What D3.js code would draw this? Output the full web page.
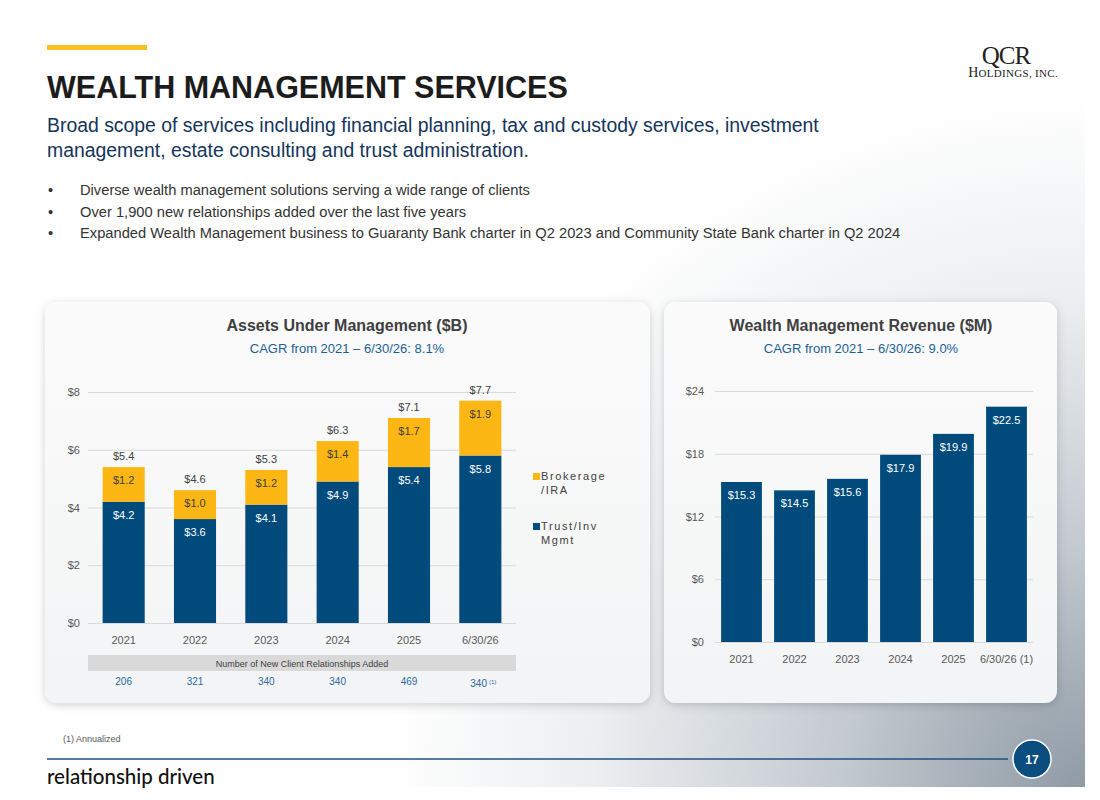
<!DOCTYPE html>
<html>
<head lang="en">
    <meta charset="UTF-8">
    <title>Wealth Management Services</title>
    <style>
        body { margin: 0; background: #fff; }
        svg { display: block; font-family: "Liberation Sans", Arial, sans-serif; }
        .grid line { stroke: #d9d9d9; }
        .tick text { fill: #595959; font-size: 11px; }
    </style>
</head>
<body>
<svg width="1100" height="800"></svg>

<script src="https://cdn.jsdelivr.net/npm/d3@7"></script>
<script>
    // ---- data ----
    var aumYears = ["2021", "2022", "2023", "2024", "2025", "6/30/26"];
    var trustInv = [4.2, 3.6, 4.1, 4.9, 5.4, 5.8];
    var brokerage = [1.2, 1.0, 1.2, 1.4, 1.7, 1.9];
    var aumTotals = [5.4, 4.6, 5.3, 6.3, 7.1, 7.7];
    var aumTicks = [0, 2, 4, 6, 8];
    var newClients = ["206", "321", "340", "340", "469", "340"];

    var revYears = ["2021", "2022", "2023", "2024", "2025", "6/30/26 (1)"];
    var revenue = [15.3, 14.5, 15.6, 17.9, 19.9, 22.5];
    var revTicks = [0, 6, 12, 18, 24];

    var bullets = [
        "Diverse wealth management solutions serving a wide range of clients",
        "Over 1,900 new relationships added over the last five years",
        "Expanded Wealth Management business to Guaranty Bank charter in Q2 2023 and Community State Bank charter in Q2 2024"
    ];

    var navy = "#004b7c", gold = "#fdb714";

    var svg = d3.select("svg");
    var defs = svg.append("defs");

    // slide background
    var rg = defs.append("radialGradient").attr("id", "bg")
            .attr("gradientUnits", "userSpaceOnUse")
            .attr("cx", 1085).attr("cy", 790).attr("r", 820);
    rg.append("stop").attr("offset", 0).attr("stop-color", "#8e9aa5");
    rg.append("stop").attr("offset", 0.3).attr("stop-color", "#c3cad0");
    rg.append("stop").attr("offset", 0.6).attr("stop-color", "#eceef0");
    rg.append("stop").attr("offset", 0.85).attr("stop-color", "#ffffff");
    svg.append("rect").attr("width", 1085).attr("height", 787).attr("fill", "url(#bg)");

    var sh = defs.append("filter").attr("id", "shadow")
            .attr("x", "-10%").attr("y", "-10%").attr("width", "120%").attr("height", "120%");
    sh.append("feDropShadow").attr("dx", 0).attr("dy", 2).attr("stdDeviation", 4)
            .attr("flood-color", "#000").attr("flood-opacity", 0.18);

    var pg = defs.append("linearGradient").attr("id", "panel").attr("x1", 0).attr("y1", 0).attr("x2", 0).attr("y2", 1);
    pg.append("stop").attr("offset", 0).attr("stop-color", "#fbfbfb");
    pg.append("stop").attr("offset", 1).attr("stop-color", "#f3f4f5");

    // ---- header ----
    svg.append("rect").attr("x", 47).attr("y", 45).attr("width", 100).attr("height", 5).attr("fill", "#fbbf24");
    svg.append("text").attr("x", 47).attr("y", 98)
            .attr("font-size", 30.5).attr("font-weight", "bold").attr("fill", "#1c1c1c")
            .text("WEALTH MANAGEMENT SERVICES");
    var sub = svg.append("text").attr("font-size", 19.4).attr("fill", "#14345a");
    sub.append("tspan").attr("x", 47).attr("y", 132)
            .text("Broad scope of services including financial planning, tax and custody services, investment");
    sub.append("tspan").attr("x", 47).attr("y", 157)
            .text("management, estate consulting and trust administration.");

    svg.selectAll(".bullet").data(bullets).enter().append("g").attr("class", "bullet")
            .each(function (d, i) {
                var g = d3.select(this);
                var y = 195 + i * 21.5;
                g.append("text").attr("x", 48).attr("y", y).attr("font-size", 14.7).attr("fill", "#333").text("\u2022");
                g.append("text").attr("x", 80).attr("y", y).attr("font-size", 14.7).attr("fill", "#333").text(d);
            });

    // logo
    svg.append("text").attr("x", 1006).attr("y", 64).attr("text-anchor", "middle")
            .attr("font-family", "Liberation Serif, serif").attr("font-size", 25).attr("fill", "#222")
            .attr("letter-spacing", -1).text("QCR");
    var hold = svg.append("text").attr("x", 1058).attr("y", 77).attr("text-anchor", "end")
            .attr("font-family", "Liberation Serif, serif").attr("fill", "#222").attr("letter-spacing", 0.3);
    hold.append("tspan").attr("font-size", 14).text("H");
    hold.append("tspan").attr("font-size", 11).text("OLDINGS, ");
    hold.append("tspan").attr("font-size", 11).text("INC.");

    // ---- panels ----
    svg.append("rect").attr("x", 45).attr("y", 302).attr("width", 605).attr("height", 401)
            .attr("rx", 12).attr("fill", "url(#panel)").attr("filter", "url(#shadow)");
    svg.append("rect").attr("x", 664).attr("y", 302).attr("width", 393).attr("height", 401)
            .attr("rx", 12).attr("fill", "url(#panel)").attr("filter", "url(#shadow)");

    function titles(cx, title, cagr) {
        svg.append("text").attr("x", cx).attr("y", 331).attr("text-anchor", "middle")
                .attr("font-size", 16).attr("font-weight", "bold").attr("fill", "#404040").text(title);
        svg.append("text").attr("x", cx).attr("y", 353).attr("text-anchor", "middle")
                .attr("font-size", 13).attr("fill", "#1d5f93").text(cagr);
    }

    // ---- left chart: AUM stacked bars ----
    titles(347, "Assets Under Management ($B)", "CAGR from 2021 \u2013 6/30/26: 8.1%");

    var x1 = d3.scaleBand().domain(aumYears).range([88, 516]).paddingInner(0.41).paddingOuter(0.205);
    var y1 = d3.scaleLinear().domain([0, 8]).range([623, 392]);

    svg.append("g").attr("class", "grid")
            .attr("transform", "translate(88,0)")
            .call(d3.axisLeft(y1).tickValues(aumTicks).tickSize(-428).tickFormat(function (d) { return "$" + d; }))
            .call(function (g) {
                g.select(".domain").remove();
                g.selectAll(".tick text").attr("x", -8);
            });

    var la = svg.append("g").selectAll("g").data(aumYears).enter().append("g");
    la.append("rect").attr("x", function (d) { return x1(d); })
            .attr("y", function (d, i) { return y1(trustInv[i]); })
            .attr("width", x1.bandwidth())
            .attr("height", function (d, i) { return y1(0) - y1(trustInv[i]); })
            .attr("fill", navy);
    la.append("rect").attr("x", function (d) { return x1(d); })
            .attr("y", function (d, i) { return y1(trustInv[i] + brokerage[i]); })
            .attr("width", x1.bandwidth())
            .attr("height", function (d, i) { return y1(trustInv[i]) - y1(trustInv[i] + brokerage[i]); })
            .attr("fill", gold);
    la.append("text").attr("text-anchor", "middle").attr("font-size", 11).attr("fill", "#fff")
            .attr("x", function (d) { return x1(d) + x1.bandwidth() / 2; })
            .attr("y", function (d, i) { return y1(trustInv[i]) + 17; })
            .text(function (d, i) { return "$" + trustInv[i].toFixed(1); });
    la.append("text").attr("text-anchor", "middle").attr("font-size", 11).attr("fill", "#404040")
            .attr("x", function (d) { return x1(d) + x1.bandwidth() / 2; })
            .attr("y", function (d, i) { return y1(trustInv[i] + brokerage[i]) + 17; })
            .text(function (d, i) { return "$" + brokerage[i].toFixed(1); });
    la.append("text").attr("text-anchor", "middle").attr("font-size", 11).attr("fill", "#404040")
            .attr("x", function (d) { return x1(d) + x1.bandwidth() / 2; })
            .attr("y", function (d, i) { return y1(aumTotals[i]) - 7; })
            .text(function (d, i) { return "$" + aumTotals[i].toFixed(1); });

    svg.append("g").attr("transform", "translate(0,623)")
            .call(d3.axisBottom(x1).tickSize(0).tickPadding(13))
            .call(function (g) {
                g.select(".domain").remove();
                g.selectAll(".tick text").attr("fill", "#404040");
            });

    // new client relationships strip
    svg.append("rect").attr("x", 88).attr("y", 655).attr("width", 428).attr("height", 16).attr("fill", "#d9d9d9");
    svg.append("text").attr("x", 302).attr("y", 667).attr("text-anchor", "middle")
            .attr("font-size", 9).attr("fill", "#404040").text("Number of New Client Relationships Added");
    var nc = svg.append("g").selectAll("text").data(aumYears).enter().append("text")
            .attr("text-anchor", "middle").attr("font-size", 10).attr("fill", "#2a6aa0")
            .attr("x", function (d, i) { return x1(d) + x1.bandwidth() / 2 + (i === 5 ? 3 : 0); })
            .attr("y", function (d, i) { return i === 5 ? 687 : 685; })
            .text(function (d, i) { return newClients[i]; });
    nc.filter(function (d, i) { return i === 5; }).append("tspan")
            .attr("font-size", 6).attr("dy", -3).attr("dx", 2).text("(1)");

    // legend
    var legend = [
        {label: ["Brokerage", "/IRA"], color: gold, y: 480},
        {label: ["Trust/Inv", "Mgmt"], color: navy, y: 530}
    ];
    var lg = svg.append("g").selectAll("g").data(legend).enter().append("g");
    lg.append("rect").attr("x", 533).attr("y", function (d) { return d.y - 7; })
            .attr("width", 7).attr("height", 7).attr("fill", function (d) { return d.color; });
    lg.append("text").attr("font-size", 11).attr("fill", "#404040").attr("letter-spacing", 1.6)
            .each(function (d) {
                var t = d3.select(this);
                d.label.forEach(function (s, j) {
                    t.append("tspan").attr("x", 541).attr("y", d.y + j * 14).text(s);
                });
            });

    // ---- right chart: revenue ----
    titles(861, "Wealth Management Revenue ($M)", "CAGR from 2021 \u2013 6/30/26: 9.0%");

    var x2 = d3.scaleBand().domain(revYears).range([715, 1033]).paddingInner(0.23).paddingOuter(0.115);
    var y2 = d3.scaleLinear().domain([0, 24]).range([642, 391]);

    svg.append("g").attr("class", "grid")
            .attr("transform", "translate(715,0)")
            .call(d3.axisLeft(y2).tickValues(revTicks).tickSize(-318).tickFormat(function (d) { return "$" + d; }))
            .call(function (g) {
                g.select(".domain").remove();
                g.selectAll(".tick text").attr("x", -11);
            });

    var rb = svg.append("g").selectAll("g").data(revYears).enter().append("g");
    rb.append("rect").attr("x", function (d) { return x2(d); })
            .attr("y", function (d, i) { return y2(revenue[i]); })
            .attr("width", x2.bandwidth())
            .attr("height", function (d, i) { return y2(0) - y2(revenue[i]); })
            .attr("fill", navy);
    rb.append("text").attr("text-anchor", "middle").attr("font-size", 11).attr("fill", "#fff")
            .attr("x", function (d) { return x2(d) + x2.bandwidth() / 2; })
            .attr("y", function (d, i) { return y2(revenue[i]) + 17; })
            .text(function (d, i) { return "$" + revenue[i].toFixed(1); });

    svg.append("g").attr("transform", "translate(0,642)")
            .call(d3.axisBottom(x2).tickSize(0).tickPadding(13))
            .call(function (g) {
                g.select(".domain").remove();
                g.selectAll(".tick text").attr("fill", "#404040").attr("font-size", 10.5);
            });

    // ---- footer ----
    svg.append("text").attr("x", 63).attr("y", 742).attr("font-size", 9).attr("fill", "#595959").text("(1) Annualized");
    svg.append("line").attr("x1", 47).attr("x2", 1008).attr("y1", 759).attr("y2", 759)
            .attr("stroke", "#1f5180").attr("stroke-width", 1.5);
    svg.append("circle").attr("cx", 1032).attr("cy", 759).attr("r", 19)
            .attr("fill", "#0b4d7f").attr("stroke", "#fff").attr("stroke-width", 1.5);
    svg.append("text").attr("x", 1032).attr("y", 764).attr("text-anchor", "middle")
            .attr("font-size", 12).attr("font-weight", "bold").attr("fill", "#fff").text("17");
    svg.append("text").attr("x", 47).attr("y", 784).attr("font-family", "Lato, sans-serif")
            .attr("font-size", 20.5).attr("font-weight", 500).attr("fill", "#111").text("relationship driven");
</script>
</body>
</html>
